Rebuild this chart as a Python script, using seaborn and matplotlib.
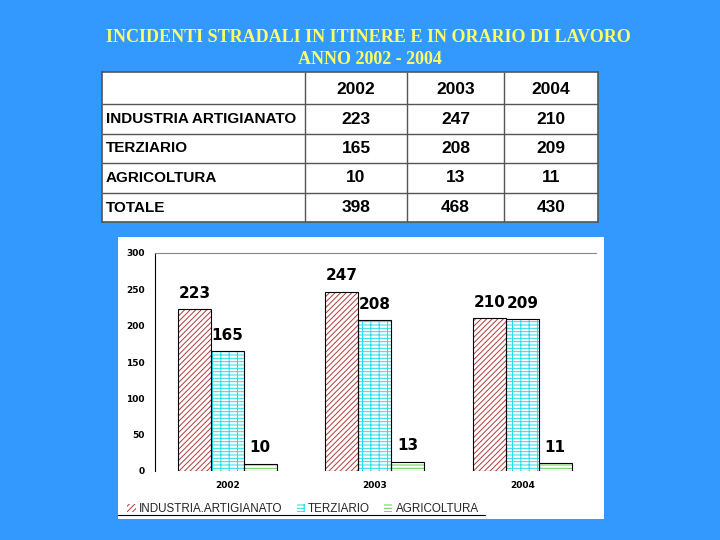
import matplotlib
matplotlib.use('Agg')
import matplotlib.pyplot as plt
import seaborn as sns
import pandas as pd
from matplotlib.patches import Rectangle
from matplotlib.lines import Line2D

# dati (incidenti per settore e anno)
anni = ['2002', '2003', '2004']
settori = ['INDUSTRIA ARTIGIANATO', 'TERZIARIO', 'AGRICOLTURA']
industria = [223, 247, 210]
terziario = [165, 208, 209]
agricoltura = [10, 13, 11]
totale = [398, 468, 430]
legenda = ['INDUSTRIA.ARTIGIANATO', 'TERZIARIO', 'AGRICOLTURA']

sns.set_style('white')
plt.rcParams['hatch.linewidth'] = 0.7

blu = '#3399ff'
fig = plt.figure(figsize=(7.2, 5.4), dpi=100, facecolor=blu)

# titolo
fig.text(0.511, 0.931, 'INCIDENTI STRADALI IN ITINERE E IN ORARIO DI LAVORO',
         ha='center', va='center', color='#ffff66', fontsize=13,
         fontweight='bold', family='Liberation Serif')
fig.text(0.514, 0.89, 'ANNO 2002 - 2004', ha='center', va='center',
         color='#ffff66', fontsize=13, fontweight='bold',
         family='Liberation Serif')

# tabella
tab = fig.add_axes([102 / 720, 318 / 540, 496 / 720, 150 / 540])
tab.set_xlim(0, 496)
tab.set_ylim(150, 0)
tab.set_xticks([])
tab.set_yticks([])
tab.set_facecolor('white')
for s in tab.spines.values():
    s.set_color('#555555')
    s.set_linewidth(1.2)
col_x = [0, 203, 305, 402, 496]
row_y = [0, 32, 62, 91, 121, 150]
tab.vlines(col_x[1:-1], 0, 150, color='#555555', lw=1)
tab.hlines(row_y[1:-1], 0, 496, color='#555555', lw=1)

righe = [industria, terziario, agricoltura, totale]
etichette = settori + ['TOTALE']
tfont = dict(family='Liberation Sans', fontweight='bold', va='center',
             color='black')
for j, a in enumerate(anni):
    tab.text((col_x[j + 1] + col_x[j + 2]) / 2, (row_y[0] + row_y[1]) / 2 + 2, a,
             ha='center', fontsize=12.5, **tfont)
for i, (lab, vals) in enumerate(zip(etichette, righe)):
    yc = (row_y[i + 1] + row_y[i + 2]) / 2
    tab.text(4, yc, lab, ha='left', fontsize=11, **tfont)
    for j, v in enumerate(vals):
        tab.text((col_x[j + 1] + col_x[j + 2]) / 2, yc, str(v), ha='center',
                 fontsize=12.5, **tfont)

# pannello bianco del grafico
fig.add_artist(Rectangle((118 / 720, 21 / 540), 486 / 720, 282 / 540,
                         transform=fig.transFigure, facecolor='white',
                         edgecolor='none', zorder=-1))

df = pd.DataFrame({
    'anno': anni * 3,
    'settore': [s for s in settori for _ in anni],
    'valore': industria + terziario + agricoltura,
})

ax = fig.add_axes([155 / 720, 69 / 540, 441 / 720, 218 / 540])
ax.patch.set_alpha(0)

sns.barplot(data=df, x='anno', y='valore', hue='settore',
            palette=['white'] * 3, width=0.67, linewidth=0, saturation=1,
            legend=False, ax=ax)
tratteggi = ['//////', '-----||', '-----']
colori = ['#b23a3a', '#22dde8', '#66cc55']
for cont, h, c in zip(ax.containers, tratteggi, colori):
    for p in cont:
        p.set_hatch(h)
        p.set_edgecolor(c)

# contorni
sns.barplot(data=df, x='anno', y='valore', hue='settore', fill=False,
            palette=['black'] * 3, width=0.67, linewidth=0.8,
            legend=False, ax=ax)

for cont in ax.containers[:3]:
    ax.bar_label(cont, padding=6, fontsize=11, fontweight='bold', color='black')

ax.set_ylim(0, 300)
ax.set_yticks(range(0, 301, 50))
ax.set_xlim(-0.49, 2.5)
ax.set_xlabel('')
ax.set_ylabel('')
ax.tick_params(axis='y', labelsize=6.5, pad=4, labelcolor='black')
ax.tick_params(axis='x', labelsize=6.5, pad=4, labelcolor='black')
for lab in ax.get_xticklabels() + ax.get_yticklabels():
    lab.set_fontweight('bold')
ax.spines['right'].set_visible(False)
ax.spines['bottom'].set_visible(False)
ax.spines['top'].set_color('#888888')
ax.spines['left'].set_color('black')

fig.legend(ax.containers[:3], legenda, loc='lower left',
           bbox_to_anchor=(125 / 720, 23 / 540), ncol=3, frameon=False,
           prop=dict(family='Liberation Sans', size=8.4),
           handlelength=0.7, handleheight=0.7, handletextpad=0.3,
           columnspacing=1.2, borderpad=0.2, borderaxespad=0)
fig.add_artist(Line2D([118 / 720, 485 / 720], [25 / 540, 25 / 540],
                      transform=fig.transFigure, color='black', lw=0.8))

fig.savefig('out.png', dpi=100, facecolor=blu)
